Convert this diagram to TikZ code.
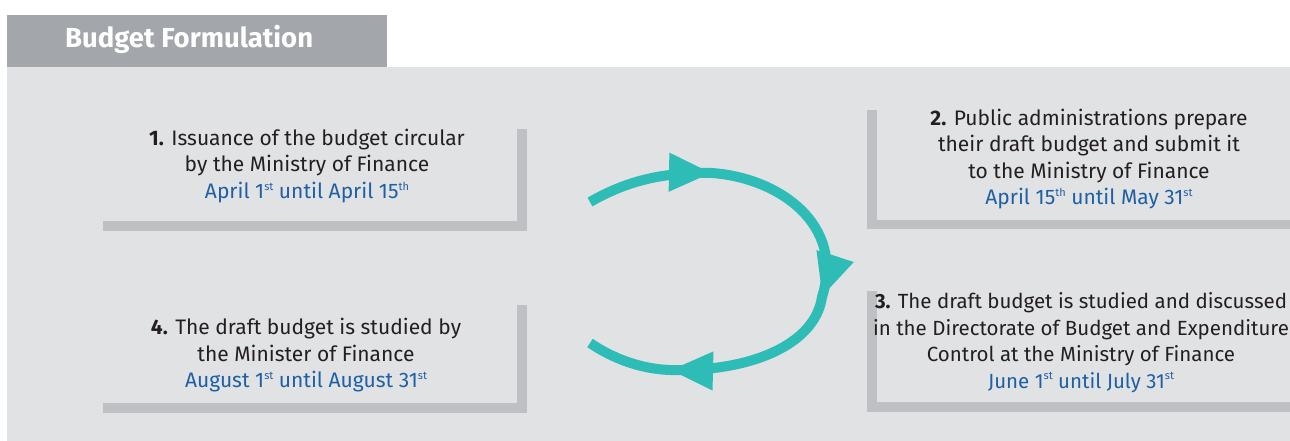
\documentclass[tikz,border=0pt]{standalone}
\usepackage{fontspec}
\setmainfont{Fira Sans}
\usetikzlibrary{arrows.meta}
\definecolor{panel}{HTML}{E1E2E4}
\definecolor{tab}{HTML}{A3A6AB}
\definecolor{bar}{HTML}{BEC0C3}
\definecolor{txt}{HTML}{231F20}
\definecolor{dateblue}{HTML}{1F5FA3}
\definecolor{teal}{HTML}{2DBDB6}
\tikzset{
  shadowbar/.style={fill=bar, draw=none},
  steptext/.style={align=center, inner sep=0pt, text=txt, font=\fontsize{21}{26.5}\selectfont},
  cyclearrow/.style={draw=teal, line width=10pt, line cap=butt, -{Triangle[length=43pt,width=36pt]}},
  cycleline/.style={draw=teal, line width=10pt, line cap=butt},
}
\newcommand{\dt}[1]{\textcolor{dateblue}{#1}}
\newcommand{\sups}[1]{\raisebox{0.75ex}{\fontsize{11}{11}\selectfont #1}}
\begin{document}
\begin{tikzpicture}[x=1pt,y=-1pt]
\useasboundingbox (0,0) rectangle (1290,441);
\fill[white] (0,0) rectangle (1290,441);
% panel and tab
\fill[panel] (7,67) rectangle (1290,441);
\fill[tab] (7,15) rectangle (387,67);
\node[anchor=west, inner sep=0pt, text=white, font=\fontsize{27.5}{30}\selectfont\bfseries] (title) at (65,39) {Budget Formulation};
% box 1 bars
\fill[shadowbar] (517,129) rectangle (527,231);
\fill[shadowbar] (103,221) rectangle (527,231);
% box 2 bars
\fill[shadowbar] (867,110) rectangle (877,229);
\fill[shadowbar] (867,220) rectangle (1290,229);
% box 3 bars
\fill[shadowbar] (867,291) rectangle (877,412);
\fill[shadowbar] (867,402) rectangle (1290,412);
% box 4 bars
\fill[shadowbar] (517,305) rectangle (527,413);
\fill[shadowbar] (103,403) rectangle (527,413);
% texts
\node[steptext] (s1) at (307,166) {\textbf{1.} Issuance of the budget circular\\by the Ministry of Finance\\\dt{April 1\sups{st} until April 15\sups{th}}};
\node[steptext] (s2) at (1089,159) {\textbf{2.} Public administrations prepare\\their draft budget and submit it\\to the Ministry of Finance\\\dt{April 15\sups{th} until May 31\sups{st}}};
\node[steptext, font=\fontsize{20.5}{26.5}\selectfont] (s3) at (1081,342.5) {\textbf{3.} The draft budget is studied and discussed\\in the Directorate of Budget and Expenditure\\Control at the Ministry of Finance\\\dt{June 1\sups{st} until July 31\sups{st}}};
\node[steptext] (s4) at (306,355.5) {\textbf{4.} The draft budget is studied by\\the Minister of Finance\\\dt{August 1\sups{st} until August 31\sups{st}}};
% cycle arrows
\coordinate (a0) at (590,202);
\coordinate (a1) at (712,173);
\coordinate (a2) at (822,297);
\coordinate (a3) at (670,370);
\coordinate (a4) at (590,343);
\coordinate (b1) at (669,172.2);
\coordinate (b2) at (835.1,256.1);
\coordinate (b3) at (713,371);
\draw[cycleline] (a0) .. controls (625,182) and (660,172) .. (a1)
  .. controls (780,178) and (845,225) .. (a2)
  .. controls (815,345) and (750,372) .. (a3)
  .. controls (640,369) and (612,358) .. (a4);
\draw[cyclearrow] (b1) -- (a1);
\draw[cyclearrow] (b2) -- (a2);
\draw[cyclearrow] (b3) -- (a3);
\end{tikzpicture}
\end{document}
